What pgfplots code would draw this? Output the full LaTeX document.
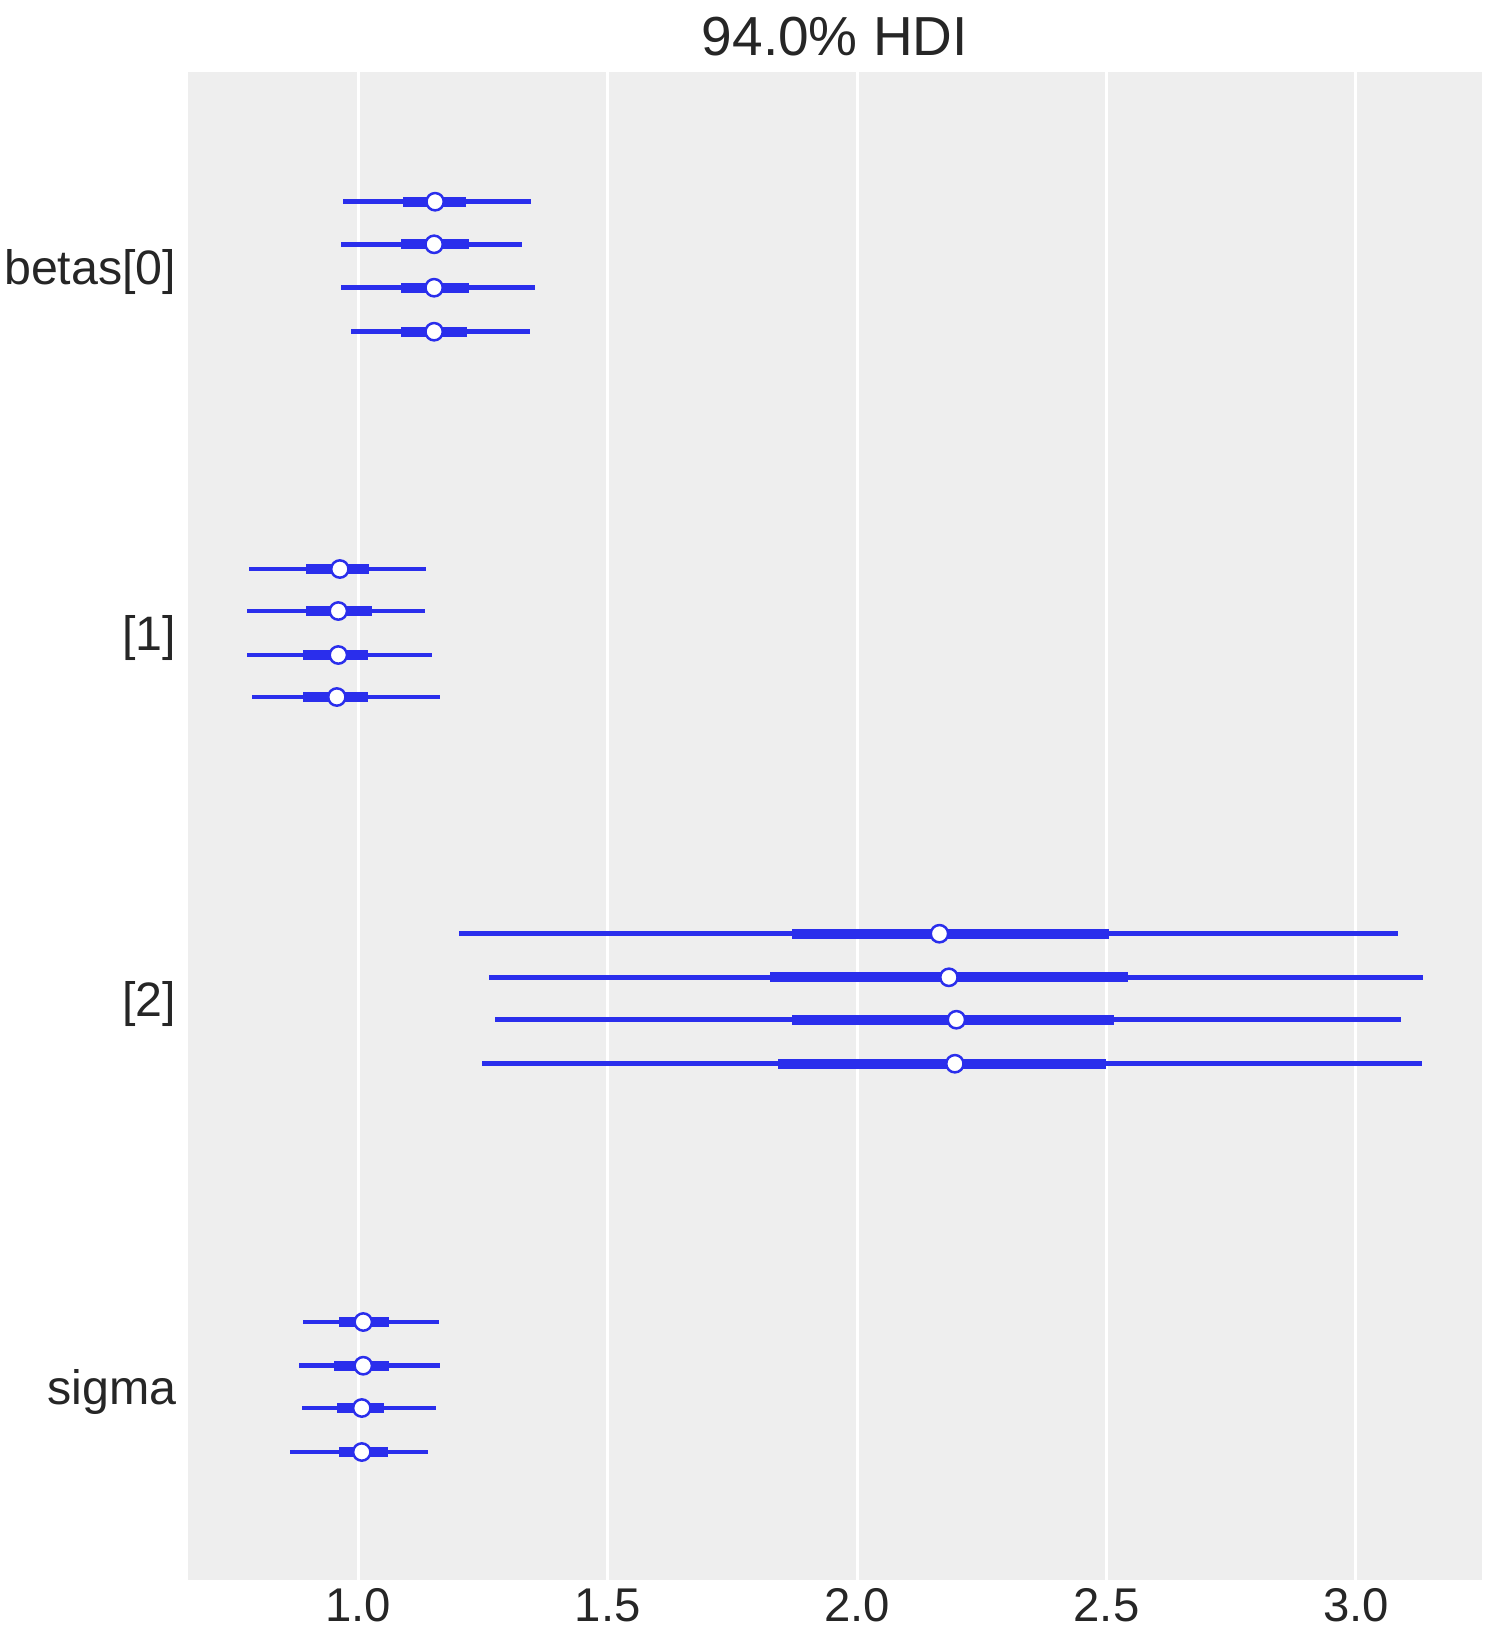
\documentclass[border=0pt]{standalone}
\usepackage{pgfplots}
\pgfplotsset{compat=1.18}
\usepackage{pgfplotstable}
\usepackage{fontspec}
\setmainfont{Liberation Sans}
\definecolor{azblue}{HTML}{2A2EEC}
\definecolor{bg}{HTML}{EEEEEE}
\definecolor{txt}{HTML}{262626}

\pgfplotstableread{
y      lo     hi     qlo    qhi    med
201.7  0.969  1.346  1.090  1.216  1.154
244.3  0.965  1.329  1.085  1.221  1.152
287.7  0.965  1.354  1.085  1.221  1.152
331.7  0.985  1.344  1.085  1.218  1.152
569.0  0.781  1.136  0.895  1.021  0.963
611.0  0.776  1.134  0.895  1.028  0.960
655.0  0.776  1.147  0.889  1.019  0.960
697.0  0.786  1.164  0.889  1.019  0.957
933.7  1.202  3.084  1.870  2.505  2.165
977.3  1.262  3.135  1.826  2.544  2.184
1019.7 1.275  3.090  1.870  2.515  2.199
1063.7 1.247  3.132  1.841  2.499  2.196
1322.0 0.890  1.162  0.962  1.062  1.010
1365.7 0.882  1.164  0.952  1.062  1.010
1408.0 0.887  1.156  0.957  1.052  1.007
1452.0 0.864  1.139  0.962  1.059  1.007
}\data

\begin{document}
\begin{tikzpicture}
\begin{axis}[
  scale only axis,
  width=388.1pt, height=452.4pt,
  at={(0,0)}, anchor=south west,
  xmin=0.6586, xmax=3.252,
  ymin=72, ymax=1580, y dir=reverse,
  axis background/.style={fill=bg},
  axis line style={draw=none},
  xtick={1,1.5,2,2.5,3},
  xticklabels={1.0,1.5,2.0,2.5,3.0},
  ytick={266.5,633,998.6,1387},
  yticklabels={{betas[0]},{[1]},{[2]},{sigma}},
  major tick length=0pt,
  xmajorgrids, ymajorgrids=false,
  grid style={white, line width=0.9pt},
  tick label style={font=\fontsize{14.2}{17}\selectfont, text=txt},
  xticklabel style={yshift=1pt},
  yticklabel style={font=\fontsize{14.5}{17}\selectfont, yshift=-1.5pt},
  title={94.0\% HDI},
  title style={font=\fontsize{16.5}{20}\selectfont, text=txt, anchor=base, yshift=-0.9pt},
]
\addplot[only marks, mark=none, forget plot,
  error bars/.cd, x dir=both, x explicit, error mark=none,
  error bar style={line width=1.4pt, draw=azblue}]
  table[x=med, y=y,
    x error plus expr=\thisrow{hi}-\thisrow{med},
    x error minus expr=\thisrow{med}-\thisrow{lo}] {\data};
\addplot[only marks, mark=none, forget plot,
  error bars/.cd, x dir=both, x explicit, error mark=none,
  error bar style={line width=3pt, draw=azblue}]
  table[x=med, y=y,
    x error plus expr=\thisrow{qhi}-\thisrow{med},
    x error minus expr=\thisrow{med}-\thisrow{qlo}] {\data};
\addplot[only marks, mark=*, mark size=2.6pt,
  mark options={fill=white, draw=azblue, line width=0.75pt}]
  table[x=med, y=y] {\data};
\end{axis}
\pgfresetboundingbox
\path (-56.4pt,-19.5pt) rectangle (392.1pt,474pt);
\end{tikzpicture}
\end{document}
